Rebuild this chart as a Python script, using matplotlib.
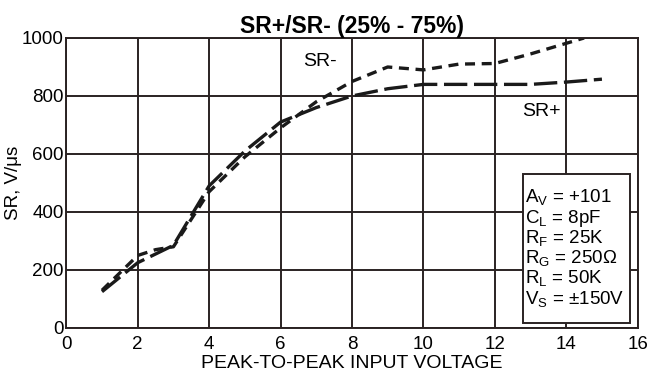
import matplotlib.pyplot as plt
from matplotlib.patches import Rectangle

plt.rcParams['font.family'] = ['Liberation Sans', 'DejaVu Sans']

# SR- (short dash) and SR+ (long dash)
sr_minus_x = [1, 2, 2.5, 3, 4, 5, 6, 7, 8, 9, 10, 11, 12, 13, 14.5]
sr_minus_y = [130, 250, 270, 280, 470, 590, 690, 780, 850, 900, 890, 910, 912, 945, 1000]
sr_plus_x = [1, 2, 3, 4, 5, 6, 7, 8, 9, 10, 11, 12, 13, 14, 15]
sr_plus_y = [125, 225, 285, 490, 610, 710, 760, 800, 825, 840, 840, 840, 840, 848, 858]

x_ticks = [0, 2, 4, 6, 8, 10, 12, 14, 16]
y_ticks = [0, 200, 400, 600, 800, 1000]

conditions = [r'A$_\mathregular{V}$ = +101', r'C$_\mathregular{L}$ = 8pF',
              r'R$_\mathregular{F}$ = 25K', r'R$_\mathregular{G}$ = 250Ω',
              r'R$_\mathregular{L}$ = 50K', r'V$_\mathregular{S}$ = ±150V']

fig = plt.figure(figsize=(6.5, 3.8), dpi=100)
ax = fig.add_axes([0.102, 0.137, 0.879, 0.763])

ax.plot(sr_minus_x, sr_minus_y, color='#1a1a1a', lw=2.4, dashes=(3, 2))
ax.plot(sr_plus_x, sr_plus_y, color='#1a1a1a', lw=2.4, dashes=(7, 2))

ax.set_xlim(0, 16)
ax.set_ylim(0, 1000)
ax.set_xticks(x_ticks)
ax.set_yticks(y_ticks)
ax.tick_params(length=0, labelsize=13.5)
ax.tick_params(axis='x', pad=6)
ax.tick_params(axis='y', pad=2)
ax.grid(True, color='#2a2222', lw=1.4)
for s in ax.spines.values():
    s.set_color('#2a2222')
    s.set_linewidth(1.4)

ax.set_title('SR+/SR- (25% - 75%)', fontsize=16.5, fontweight='bold', pad=2)
ax.set_xlabel('PEAK-TO-PEAK INPUT VOLTAGE', fontsize=14, labelpad=1)
ax.set_ylabel('SR, V/μs', fontsize=13.5, labelpad=0)

ax.text(7.1, 920, 'SR-', fontsize=14, ha='center', va='center')
ax.text(13.3, 745, 'SR+', fontsize=14, ha='center', va='center')

# conditions box
ax.add_patch(Rectangle((12.78, 17), 3.0, 514, fc='white', ec='#2a2222',
                       lw=1.4, zorder=4))
ax.text(12.85, 274, '\n'.join(conditions), fontsize=13.5, ha='left',
        va='center', linespacing=1.0, zorder=5)

fig.savefig('out.png', dpi=100)
